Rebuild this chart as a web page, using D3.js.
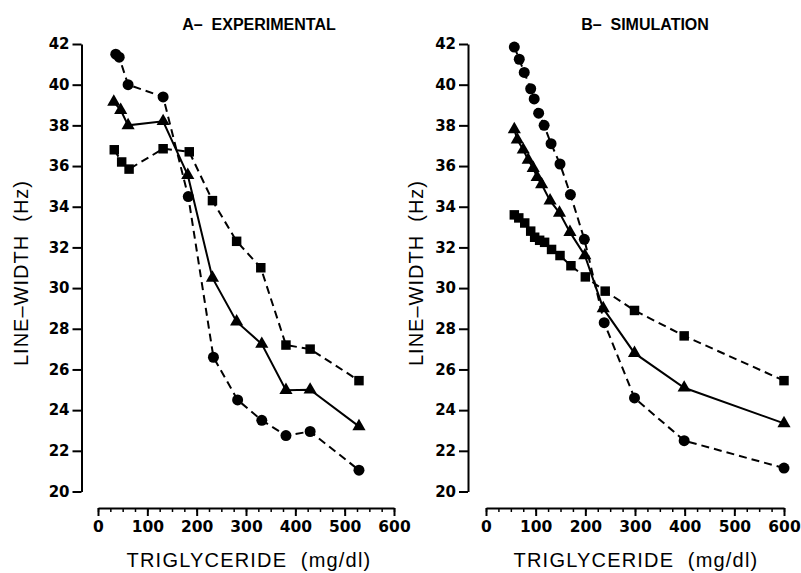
<!DOCTYPE html>
<html>
<head>
<meta charset="utf-8">
<script src="https://cdn.jsdelivr.net/npm/d3@7"></script>
<style>
body { margin: 0; background: #fff; }
.tick text { font-family: "DejaVu Sans", sans-serif; font-weight: bold; }
</style>
</head>
<body>
<div class="chart"></div>
<script>
// A - experimental
var expCircleX = [36, 43, 61, 132, 183, 234, 283, 332, 381, 430, 529];
var expCircleY = [41.5, 41.35, 40.0, 39.4, 34.5, 26.6, 24.5, 23.5, 22.75, 22.95, 21.05];
var expTriX = [32, 46, 61, 132, 182, 232, 281, 332, 381, 430, 529];
var expTriY = [39.15, 38.75, 38.0, 38.2, 35.55, 30.5, 28.35, 27.25, 24.98, 25.0, 23.2];
var expSquareX = [33, 48, 63, 132, 185, 232, 281, 330, 381, 430, 529];
var expSquareY = [36.8, 36.2, 35.85, 36.85, 36.7, 34.3, 32.3, 31.0, 27.2, 27.0, 25.45];

// B - simulation
var simCircleX = [57, 67, 77, 90, 97, 106, 117, 131, 149, 170, 198, 238, 299, 399, 600];
var simCircleY = [41.85, 41.25, 40.6, 39.8, 39.3, 38.6, 38.0, 37.1, 36.1, 34.6, 32.4, 28.3, 24.6, 22.5, 21.15];
var simTriX = [57, 63, 75, 85, 95, 103, 112, 129, 148, 169, 199, 236, 299, 399, 600];
var simTriY = [37.8, 37.3, 36.8, 36.3, 35.9, 35.45, 35.1, 34.3, 33.7, 32.75, 31.6, 29.0, 26.8, 25.1, 23.35];
var simSquareX = [57, 66, 78, 90, 98, 108, 118, 132, 149, 171, 200, 240, 299, 399, 600];
var simSquareY = [33.6, 33.45, 33.2, 32.8, 32.5, 32.35, 32.25, 31.9, 31.6, 31.1, 30.55, 29.85, 28.9, 27.65, 25.45];

var yTicks = [20, 22, 24, 26, 28, 30, 32, 34, 36, 38, 40, 42];
var xTicks = [0, 100, 200, 300, 400, 500, 600];
var xMinorTicks = d3.range(0, 601, 25);

var width = 801, height = 573;
var svg = d3.select(".chart").append("svg")
    .attr("width", width)
    .attr("height", height);

function zip(xs, ys) {
  return xs.map(function(x, i) { return [x, ys[i]]; });
}

function panel(opt) {
  var x = d3.scaleLinear().domain([0, 600]).range([opt.x0, opt.x1]);
  var y = d3.scaleLinear().domain([20, 42]).range([491.5, 44]);
  var g = svg.append("g");

  // y axis
  g.append("g")
      .attr("transform", "translate(" + opt.yAxisX + ",0)")
      .call(d3.axisLeft(y).tickValues(yTicks).tickSize(9).tickSizeOuter(0).tickPadding(3))
      .call(function(a) {
        a.select(".domain").attr("stroke-width", 2);
        a.selectAll(".tick line").attr("stroke-width", 2);
        a.selectAll(".tick text").attr("font-size", 15).attr("fill", "#000");
      });

  // x axis, minor ticks first
  var xa = g.append("g").attr("transform", "translate(0,508)");
  xa.call(d3.axisBottom(x).tickValues(xMinorTicks).tickSize(4).tickSizeOuter(0).tickFormat(""))
    .call(function(a) {
      a.select(".domain").attr("stroke-width", 2);
      a.selectAll(".tick line").attr("stroke-width", 1.5);
    });
  g.append("g").attr("transform", "translate(0,508)")
      .call(d3.axisBottom(x).tickValues(xTicks).tickSize(8).tickSizeOuter(0).tickPadding(5))
      .call(function(a) {
        a.select(".domain").remove();
        a.selectAll(".tick line").attr("stroke-width", 2);
        a.selectAll(".tick text").attr("font-size", 15.5).attr("fill", "#000");
      });

  // titles
  g.append("text")
      .attr("x", opt.titleX).attr("y", 30)
      .attr("text-anchor", "middle")
      .style("font-family", "Liberation Sans, Arial, sans-serif")
      .style("font-weight", "bold").style("font-size", "16px")
      .style("white-space", "pre")
      .text(opt.title);
  g.append("text")
      .attr("x", opt.xLabelX).attr("y", 567)
      .attr("text-anchor", "middle")
      .style("font-family", "Liberation Sans, Arial, sans-serif")
      .style("font-size", "20px")
      .style("letter-spacing", "1.2px")
      .style("white-space", "pre")
      .text("TRIGLYCERIDE  (mg/dl)");
  g.append("text")
      .attr("transform", "translate(" + opt.yLabelX + ",273) rotate(-90)")
      .attr("text-anchor", "middle")
      .style("font-family", "Liberation Sans, Arial, sans-serif")
      .style("font-size", "20px")
      .style("letter-spacing", "1px")
      .style("white-space", "pre")
      .text("LINE\u2013WIDTH  (Hz)");

  var line = d3.line()
      .x(function(d) { return x(d[0]); })
      .y(function(d) { return y(d[1]); });

  opt.series.forEach(function(s) {
    var pts = zip(s.x, s.y);
    g.append("path")
        .datum(pts)
        .attr("fill", "none")
        .attr("stroke", "#000")
        .attr("stroke-width", 2)
        .attr("stroke-dasharray", s.dashed ? "8,5" : null)
        .attr("d", line);
    g.selectAll(null)
        .data(pts)
        .enter().append("path")
        .attr("transform", function(d) { return "translate(" + x(d[0]) + "," + y(d[1]) + ")"; })
        .attr("d", d3.symbol().type(s.symbol).size(s.size))
        .attr("fill", "#000");
  });
}

panel({
  x0: 98, x1: 394, yAxisX: 81.5,
  title: "A\u2013  EXPERIMENTAL", titleX: 259,
  xLabelX: 249, yLabelX: 28,
  series: [
    {x: expCircleX, y: expCircleY, dashed: true, symbol: d3.symbolCircle, size: 95},
    {x: expTriX, y: expTriY, dashed: false, symbol: d3.symbolTriangle, size: 75},
    {x: expSquareX, y: expSquareY, dashed: true, symbol: d3.symbolSquare, size: 90}
  ]
});

panel({
  x0: 486, x1: 784, yAxisX: 468,
  title: "B\u2013  SIMULATION", titleX: 645,
  xLabelX: 636, yLabelX: 423,
  series: [
    {x: simCircleX, y: simCircleY, dashed: true, symbol: d3.symbolCircle, size: 95},
    {x: simTriX, y: simTriY, dashed: false, symbol: d3.symbolTriangle, size: 75},
    {x: simSquareX, y: simSquareY, dashed: true, symbol: d3.symbolSquare, size: 90}
  ]
});
</script>
</body>
</html>
